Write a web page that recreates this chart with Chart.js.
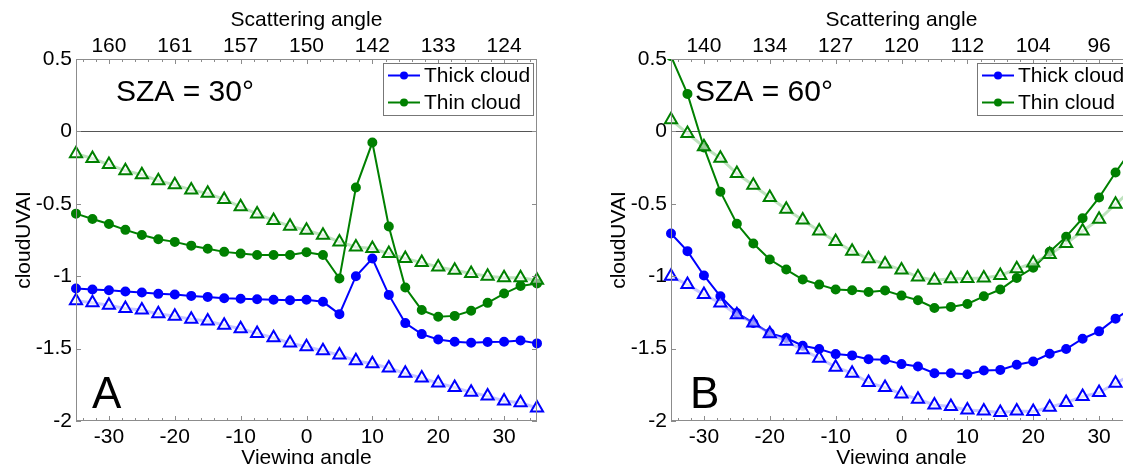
<!DOCTYPE html>
<html>
<head>
<meta charset="utf-8">
<script src="https://cdn.jsdelivr.net/npm/chart.js@4.4.1/dist/chart.umd.min.js"></script>
<style>
html, body { margin: 0; padding: 0; background: #fff; overflow: hidden; width: 1123px; height: 464px; }
.panel { position: absolute; top: 0; width: 560px; height: 480px; }
#panelA { left: 0; }
#panelB { left: 595px; }
</style>
</head>
<body>
<div class="panel" id="panelA"><canvas id="chartA" width="560" height="480"></canvas></div>
<div class="panel" id="panelB"><canvas id="chartB" width="560" height="480"></canvas></div>
<script>
// viewing angle of every point, same for all series
const viewAngle = [-35, -32.5, -30, -27.5, -25, -22.5, -20, -17.5, -15, -12.5, -10, -7.5, -5, -2.5, 0,
	2.5, 5, 7.5, 10, 12.5, 15, 17.5, 20, 22.5, 25, 27.5, 30, 32.5, 35];
const axisTicks = [-30, -20, -10, 0, 10, 20, 30];
const scatterA = ['160', '161', '157', '150', '142', '133', '124'];
const scatterB = ['140', '134', '127', '120', '112', '104', '96'];

// SZA = 30
const thickA = [-1.085, -1.092, -1.097, -1.106, -1.113, -1.122, -1.126, -1.136, -1.143, -1.152, -1.156, -1.159, -1.163, -1.166, -1.163,
	-1.177, -1.262, -1.0, -0.878, -1.129, -1.324, -1.40, -1.437, -1.453, -1.46, -1.455, -1.453, -1.444, -1.464];
const thinA = [-0.568, -0.605, -0.64, -0.68, -0.715, -0.745, -0.763, -0.789, -0.811, -0.832, -0.844, -0.853, -0.853, -0.853, -0.834,
	-0.853, -1.016, -0.388, -0.077, -0.657, -1.078, -1.234, -1.28, -1.274, -1.239, -1.184, -1.12, -1.067, -1.05];
const thickTriA = [-1.17, -1.184, -1.2, -1.223, -1.234, -1.26, -1.276, -1.297, -1.31, -1.338, -1.363, -1.395, -1.425, -1.462, -1.487,
	-1.515, -1.545, -1.584, -1.605, -1.634, -1.671, -1.703, -1.738, -1.768, -1.802, -1.828, -1.862, -1.874, -1.91];
const thinTriA = [-0.154, -0.187, -0.229, -0.271, -0.299, -0.341, -0.369, -0.404, -0.428, -0.47, -0.521, -0.57, -0.615, -0.655, -0.683,
	-0.717, -0.763, -0.798, -0.809, -0.844, -0.878, -0.906, -0.936, -0.959, -0.982, -1.0, -1.011, -1.011, -1.028];

// SZA = 60
const thickB = [-0.705, -0.827, -0.995, -1.139, -1.254, -1.323, -1.393, -1.427, -1.48, -1.503, -1.538, -1.547, -1.573, -1.577, -1.607,
	-1.624, -1.67, -1.67, -1.677, -1.651, -1.647, -1.612, -1.589, -1.536, -1.503, -1.432, -1.381, -1.293, -1.22];
const thinB = [0.52, 0.259, -0.111, -0.416, -0.638, -0.774, -0.885, -0.954, -1.023, -1.058, -1.092, -1.097, -1.109, -1.099, -1.134,
	-1.166, -1.219, -1.212, -1.192, -1.139, -1.092, -1.012, -0.942, -0.831, -0.727, -0.6, -0.457, -0.284, -0.12];
const thickTriB = [-1.0, -1.058, -1.127, -1.185, -1.266, -1.323, -1.397, -1.45, -1.508, -1.566, -1.628, -1.67, -1.734, -1.769, -1.813,
	-1.85, -1.889, -1.9, -1.924, -1.931, -1.942, -1.931, -1.935, -1.905, -1.873, -1.831, -1.804, -1.739, -1.68];
const thinTriB = [0.081, -0.014, -0.106, -0.185, -0.291, -0.372, -0.457, -0.538, -0.612, -0.688, -0.76, -0.827, -0.88, -0.915, -0.958,
	-1.005, -1.028, -1.018, -1.016, -1.012, -0.995, -0.949, -0.908, -0.85, -0.774, -0.688, -0.607, -0.503, -0.4];

const BLUE = '#0000ff';
const GREEN = '#008000';
const FONT = '"Liberation Sans", Arial, sans-serif';

Chart.defaults.font.family = FONT;
Chart.defaults.font.size = 21;
Chart.defaults.color = '#000';

function pts(values) {
	return values.map((v, i) => ({x: viewAngle[i], y: v}));
}

// box, inward ticks, zero line, legend and the texts inside the axes
const framePlugin = {
	id: 'frame',
	beforeDatasetsDraw(chart) {
		const {ctx, chartArea: a, scales} = chart;
		const y0 = Math.round(scales.y.getPixelForValue(0)) + 0.5;
		ctx.save();
		ctx.strokeStyle = '#555';
		ctx.lineWidth = 1;
		ctx.beginPath();
		ctx.moveTo(a.left, y0);
		ctx.lineTo(a.right, y0);
		ctx.stroke();
		ctx.restore();
	},
	afterDraw(chart, args, opts) {
		const {ctx, chartArea: a, scales} = chart;
		ctx.save();
		ctx.strokeStyle = '#8c8c8c';
		ctx.lineWidth = 1;
		ctx.strokeRect(a.left + 0.5, a.top + 0.5, a.width - 1, a.height - 1);

		ctx.beginPath();
		for (let v = -34; v <= 34; v += 2) {
			const len = v % 10 === 0 ? 5 : 3;
			const x = Math.round(scales.x.getPixelForValue(v)) + 0.5;
			ctx.moveTo(x, a.bottom);
			ctx.lineTo(x, a.bottom - len);
			ctx.moveTo(x, a.top);
			ctx.lineTo(x, a.top + len);
		}
		scales.y.ticks.forEach(t => {
			const y = Math.round(scales.y.getPixelForValue(t.value)) + 0.5;
			ctx.moveTo(a.left, y);
			ctx.lineTo(a.left + 5, y);
			ctx.moveTo(a.right, y);
			ctx.lineTo(a.right - 5, y);
		});
		ctx.stroke();

		// legend
		const lx = opts.legendX, ly = 63;
		ctx.fillStyle = '#fff';
		ctx.fillRect(lx, ly, 150, 52);
		ctx.strokeStyle = '#777';
		ctx.strokeRect(lx + 0.5, ly + 0.5, 150, 52);
		ctx.font = '21px ' + FONT;
		ctx.textBaseline = 'middle';
		ctx.textAlign = 'left';
		chart.data.datasets.filter(d => d.inLegend).forEach((d, i) => {
			const y = ly + 12.5 + i * 27;
			ctx.strokeStyle = d.borderColor;
			ctx.lineWidth = 2;
			ctx.beginPath();
			ctx.moveTo(lx + 5, y);
			ctx.lineTo(lx + 37, y);
			ctx.stroke();
			ctx.fillStyle = d.borderColor;
			ctx.beginPath();
			ctx.arc(lx + 21, y, 4, 0, Math.PI * 2);
			ctx.fill();
			ctx.fillStyle = '#000';
			ctx.fillText(d.label, lx + 41, y + 1);
		});

		ctx.fillStyle = '#000';
		ctx.font = '30px ' + FONT;
		ctx.fillText(opts.sza, opts.szaX, 93);
		ctx.font = '44px ' + FONT;
		ctx.fillText(opts.letter, opts.letterX, 396);
		ctx.restore();
	}
};

// markers may spill over the left/right/bottom edges, the top stays clipped
const CLIP = {left: 10, right: 10, top: 0, bottom: 10};

function drawPanel(id, thick, thin, thickTri, thinTri, scatter, extra) {
	new Chart(document.getElementById(id), {
		type: 'line',
		data: {
			datasets: [{
				label: 'thick tri',
				data: pts(thickTri),
				clip: CLIP,
				borderColor: 'rgba(130,130,255,0.45)',
				borderWidth: 3,
				pointStyle: 'triangle',
				pointRadius: 7,
				pointBorderColor: BLUE,
				pointBackgroundColor: 'rgba(255,255,255,0.5)',
				pointBorderWidth: 2
			}, {
				label: 'thin tri',
				data: pts(thinTri),
				clip: CLIP,
				borderColor: 'rgba(110,190,110,0.45)',
				borderWidth: 3,
				pointStyle: 'triangle',
				pointRadius: 7,
				pointBorderColor: GREEN,
				pointBackgroundColor: 'rgba(255,255,255,0.5)',
				pointBorderWidth: 2
			}, {
				label: 'Thick cloud',
				inLegend: true,
				data: pts(thick),
				clip: CLIP,
				borderColor: BLUE,
				backgroundColor: BLUE,
				borderWidth: 2,
				pointRadius: 4
			}, {
				label: 'Thin cloud',
				inLegend: true,
				data: pts(thin),
				clip: CLIP,
				borderColor: GREEN,
				backgroundColor: GREEN,
				borderWidth: 2,
				pointRadius: 4
			}]
		},
		options: {
			responsive: false,
			animation: false,
			layout: {padding: {left: 0, right: 23, top: 0, bottom: 0}},
			elements: {line: {tension: 0}},
			scales: {
				x: {
					type: 'linear',
					position: 'bottom',
					min: -35,
					max: 35,
					afterBuildTicks: s => { s.ticks = axisTicks.map(v => ({value: v})); },
					afterFit: s => { s.height = 59; },
					grid: {display: false, drawTicks: false},
					border: {display: false},
					ticks: {padding: 4},
					title: {display: true, text: 'Viewing angle', padding: {top: 0, bottom: 9}}
				},
				x2: {
					type: 'linear',
					position: 'top',
					min: -35,
					max: 35,
					afterBuildTicks: s => { s.ticks = axisTicks.map(v => ({value: v})); },
					afterFit: s => { s.height = 59; },
					grid: {display: false, drawTicks: false},
					border: {display: false},
					ticks: {padding: 0, callback: (v, i) => scatter[i]},
					title: {display: true, text: 'Scattering angle', padding: {top: 8, bottom: 0}}
				},
				y: {
					min: -2,
					max: 0.5,
					afterFit: s => { s.width = 76; },
					grid: {display: false, drawTicks: false},
					border: {display: false},
					ticks: {stepSize: 0.5, padding: 4, callback: v => String(v)},
					title: {display: true, text: 'cloudUVAI', padding: {top: 12, bottom: 0}}
				}
			},
			plugins: {
				legend: {display: false},
				tooltip: {enabled: false},
				frame: extra
			}
		},
		plugins: [framePlugin]
	});
}

drawPanel('chartA', thickA, thinA, thickTriA, thinTriA, scatterA,
	{sza: 'SZA = 30°', szaX: 116, letter: 'A', letterX: 92, legendX: 383});
drawPanel('chartB', thickB, thinB, thickTriB, thinTriB, scatterB,
	{sza: 'SZA = 60°', szaX: 100, letter: 'B', letterX: 95, legendX: 382});
</script>
</body>
</html>
